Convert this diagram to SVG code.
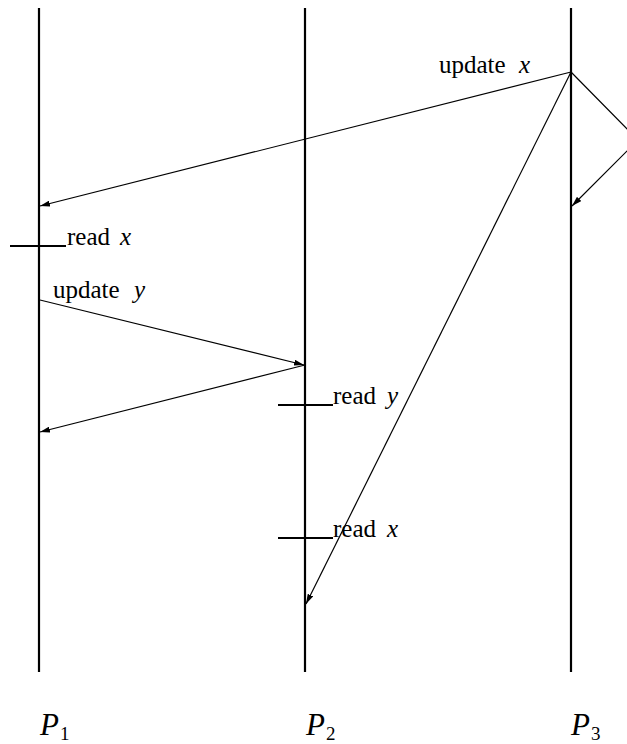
<svg xmlns="http://www.w3.org/2000/svg" width="627" height="744" viewBox="0 0 627 744">
<style>
.proc{stroke:#000;stroke-width:2.2;fill:none}
.tick{stroke:#000;stroke-width:2;fill:none}
.msg{stroke:#000;stroke-width:1.2;fill:none;marker-end:url(#ah)}
text{font-family:"Liberation Serif","Times New Roman",serif;font-size:25px;fill:#000}
.m{font-style:italic}
.pl{font-size:31px;font-style:italic}
.sub{font-size:19px;font-style:normal}
</style>
<defs>
<marker id="ah" viewBox="0 0 10 6" refX="10" refY="3" markerWidth="10" markerHeight="6" markerUnits="userSpaceOnUse" orient="auto">
<path d="M0,0 L10,3 L0,6 Z" fill="#000"/>
</marker>
</defs>
<rect width="627" height="744" fill="#fff"/>
<g id="P1">
<line class="proc" x1="39" y1="8" x2="39" y2="672"/>
<text class="pl" x="40" y="735">P</text><text class="sub" x="60" y="740">1</text>
</g>
<g id="P2">
<line class="proc" x1="305" y1="8" x2="305" y2="672"/>
<text class="pl" x="306" y="735">P</text><text class="sub" x="326" y="740">2</text>
</g>
<g id="P3">
<line class="proc" x1="571" y1="8" x2="571" y2="672"/>
<text class="pl" x="571" y="735">P</text><text class="sub" x="591" y="740">3</text>
</g>
<g id="update-x">
<text x="439" y="73">update</text><text class="m" x="519" y="73">x</text>
</g>
<g id="read-x-P1">
<line class="tick" x1="10" y1="246" x2="66" y2="246"/>
<text x="67" y="245">read</text><text class="m" x="120" y="245">x</text>
</g>
<g id="update-y">
<text x="53" y="298">update</text><text class="m" x="134" y="298">y</text>
</g>
<g id="read-y-P2">
<line class="tick" x1="278" y1="405" x2="333" y2="405"/>
<text x="333" y="404">read</text><text class="m" x="387" y="404">y</text>
</g>
<g id="read-x-P2">
<line class="tick" x1="278" y1="538" x2="333" y2="538"/>
<text x="333" y="537">read</text><text class="m" x="387" y="537">x</text>
</g>
<g id="connectors">
<path class="msg" d="M571,72 L40,206"/>
<path class="msg" d="M571,72 L638,140 L572,206"/>
<path class="msg" d="M571,72 L306,604"/>
<path class="msg" d="M40,300 L304,365"/>
<path class="msg" d="M305,365 L40,432"/>
</g>
</svg>
